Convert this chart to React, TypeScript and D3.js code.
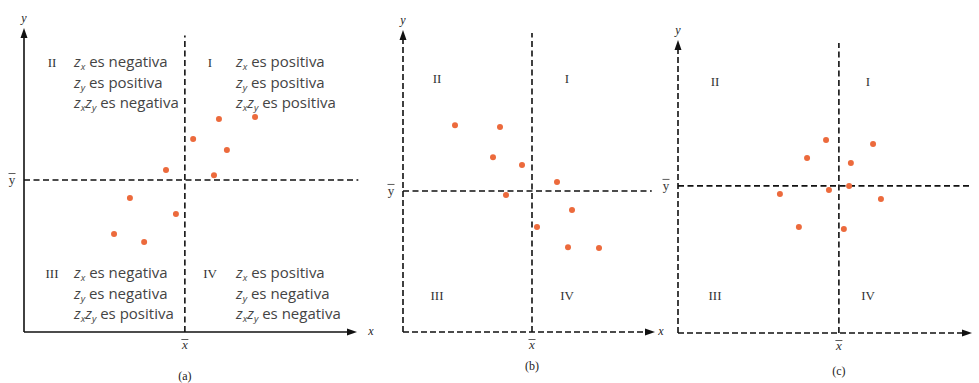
import React from "react";
import * as d3 from "d3";

// ---- data (0-100 units within each panel) ----
const aX = [58.9, 69.8, 51.1, 61.3, 42.9, 57.4, 32.0, 45.9, 27.2, 36.3];
const aY = [70.1, 70.7, 63.5, 59.9, 53.3, 51.6, 44.1, 38.8, 32.2, 29.6];
const aMean = [48.6, 50.0];

const bX = [20.8, 38.8, 36.0, 47.6, 61.6, 41.2, 67.6, 53.6, 66.0, 78.4];
const bY = [68.5, 67.9, 57.9, 55.3, 49.7, 45.4, 40.4, 34.8, 28.1, 27.8];
const bMean = [51.6, 46.7];

const cX = [50.7, 66.8, 44.2, 59.2, 58.6, 51.7, 34.9, 69.5, 41.4, 56.8];
const cY = [65.9, 64.5, 59.7, 58.0, 50.2, 48.8, 47.4, 45.7, 36.2, 35.5];
const cMean = [55.1, 50.2];

const quadrantNames = ["I", "II", "III", "IV"];
const captions = ["(a)", "(b)", "(c)"];
const signsZx = ["positiva", "negativa", "negativa", "positiva"];
const signsZy = ["positiva", "positiva", "negativa", "negativa"];
const signsZxZy = ["positiva", "negativa", "positiva", "negativa"];

const ORANGE = "#ec6a3c";
const SERIF = "'Liberation Serif', 'DejaVu Serif', serif";
const SANS = "'Open Sans', 'Noto Sans', sans-serif";

type Panel = {
  xs: number[]; ys: number[]; mean: number[]; caption: string;
  x0: number; x1: number; y0: number; y1: number; dashedAxes: boolean;
  meanTop: number; meanRight: number;
  romanX: [number, number]; romanY: [number, number];
  capY: number; xLabel: boolean; xLabelX: number;
};

const panels: Panel[] = [
  { xs: aX, ys: aY, mean: aMean, caption: captions[0], x0: 24, x1: 355, y0: 332, y1: 28, dashedAxes: false, meanTop: 97.5, meanRight: 101, romanX: [52, 210], romanY: [67, 278], capY: 380, xLabel: true, xLabelX: 371 },
  { xs: bX, ys: bY, mean: bMean, caption: captions[1], x0: 403, x1: 653, y0: 332, y1: 30, dashedAxes: true, meanTop: 99, meanRight: 99.5, romanX: [437, 567], romanY: [83, 300], capY: 370, xLabel: true, xLabelX: 661 },
  { xs: cX, ys: cY, mean: cMean, caption: captions[2], x0: 678, x1: 970, y0: 333, y1: 40, dashedAxes: true, meanTop: 99, meanRight: 100, romanX: [715, 868], romanY: [86, 300], capY: 375, xLabel: false, xLabelX: 985 },
];

const SUB_DY = 3;
const SUB_FS = 9.5;

function QuadText({ x, y, q }: { x: number; y: number; q: number }) {
  const lh = 20.5;
  return (
    <g fontFamily={SANS} fontSize={15} fill="#444">
      <text x={x} y={y}>
        <tspan fontStyle="italic">z</tspan>
        <tspan fontStyle="italic" fontSize={SUB_FS} dy={SUB_DY}>x</tspan>
        <tspan dy={-SUB_DY}> es {signsZx[q]}</tspan>
      </text>
      <text x={x} y={y + lh}>
        <tspan fontStyle="italic">z</tspan>
        <tspan fontStyle="italic" fontSize={SUB_FS} dy={SUB_DY}>y</tspan>
        <tspan dy={-SUB_DY}> es {signsZy[q]}</tspan>
      </text>
      <text x={x} y={y + 2 * lh}>
        <tspan fontStyle="italic">z</tspan>
        <tspan fontStyle="italic" fontSize={SUB_FS} dy={SUB_DY}>x</tspan>
        <tspan fontStyle="italic" dy={-SUB_DY}>z</tspan>
        <tspan fontStyle="italic" fontSize={SUB_FS} dy={SUB_DY}>y</tspan>
        <tspan dy={-SUB_DY}> es {signsZxZy[q]}</tspan>
      </text>
    </g>
  );
}

function PanelView({ p, idx }: { p: Panel; idx: number }) {
  const x = d3.scaleLinear().domain([0, 100]).range([p.x0, p.x1]);
  const y = d3.scaleLinear().domain([0, 100]).range([p.y0, p.y1]);
  const mx = x(p.mean[0]);
  const my = y(p.mean[1]);
  const axisDash = p.dashedAxes ? "6,3" : undefined;
  const sw = 1.6;
  const top = y(100);
  const right = x(100);
  return (
    <g>
      {/* axes */}
      <line x1={x(0)} y1={y(0)} x2={x(0)} y2={top + 6} stroke="#111" strokeWidth={sw} strokeDasharray={axisDash} />
      <line x1={x(0)} y1={y(0)} x2={right - 6} y2={y(0)} stroke="#111" strokeWidth={sw} strokeDasharray={axisDash} />
      <path d={`M${x(0)},${top} L${x(0) - 3.5},${top + 10} L${x(0) + 3.5},${top + 10} Z`} fill="#111" />
      <path d={`M${right + 2},${y(0)} L${right - 8},${y(0) - 3.5} L${right - 8},${y(0) + 3.5} Z`} fill="#111" />
      {/* mean lines */}
      <line x1={mx} y1={y(0)} x2={mx} y2={y(p.meanTop)} stroke="#111" strokeWidth={sw} strokeDasharray="6,3.5" />
      <line x1={x(0)} y1={my} x2={x(p.meanRight)} y2={my} stroke="#111" strokeWidth={sw} strokeDasharray="6,3.5" />
      {/* axis labels */}
      <text x={x(0)} y={top - 6} fontFamily={SERIF} fontStyle="italic" fontSize={12} textAnchor="middle" fill="#222">y</text>
      {p.xLabel && (
        <text x={p.xLabelX} y={y(0) + 3} fontFamily={SERIF} fontStyle="italic" fontSize={12} textAnchor="middle" fill="#222">x</text>
      )}
      <text x={x(0) - 12} y={my + 4} fontFamily={SERIF} fontSize={13} textAnchor="middle" fill="#333">y</text>
      <line x1={x(0) - 15.5} x2={x(0) - 8.5} y1={my - 6.5} y2={my - 6.5} stroke="#333" strokeWidth={0.8} />
      <text x={mx} y={y(0) + 17} fontFamily={SERIF} fontStyle="italic" fontSize={13} textAnchor="middle" fill="#333">x</text>
      <line x1={mx - 3.5} x2={mx + 3.5} y1={y(0) + 7.5} y2={y(0) + 7.5} stroke="#333" strokeWidth={0.8} />
      {/* caption */}
      <text x={mx} y={p.capY} fontFamily={SERIF} fontSize={12} textAnchor="middle" fill="#222">{p.caption}</text>
      {/* roman numerals */}
      <g fontFamily={SERIF} fontSize={13} fill="#333" textAnchor="middle">
        <text x={p.romanX[1]} y={p.romanY[0]}>{quadrantNames[0]}</text>
        <text x={p.romanX[0]} y={p.romanY[0]}>{quadrantNames[1]}</text>
        <text x={p.romanX[0]} y={p.romanY[1]}>{quadrantNames[2]}</text>
        <text x={p.romanX[1]} y={p.romanY[1]}>{quadrantNames[3]}</text>
      </g>
      {idx === 0 && (
        <>
          <QuadText x={236} y={67} q={0} />
          <QuadText x={74} y={67} q={1} />
          <QuadText x={74} y={278} q={2} />
          <QuadText x={236} y={278} q={3} />
        </>
      )}
      {/* points */}
      {p.xs.map((v, i) => (
        <circle key={i} cx={x(v)} cy={y(p.ys[i])} r={3} fill={ORANGE} />
      ))}
    </g>
  );
}

export default function App() {
  return (
    <svg width={979} height={383} style={{ position: "absolute", left: 0, top: 0, background: "#fff" }}>
      <rect width={979} height={383} fill="#fff" />
      {panels.map((p, i) => (
        <PanelView key={i} p={p} idx={i} />
      ))}
    </svg>
  );
}
